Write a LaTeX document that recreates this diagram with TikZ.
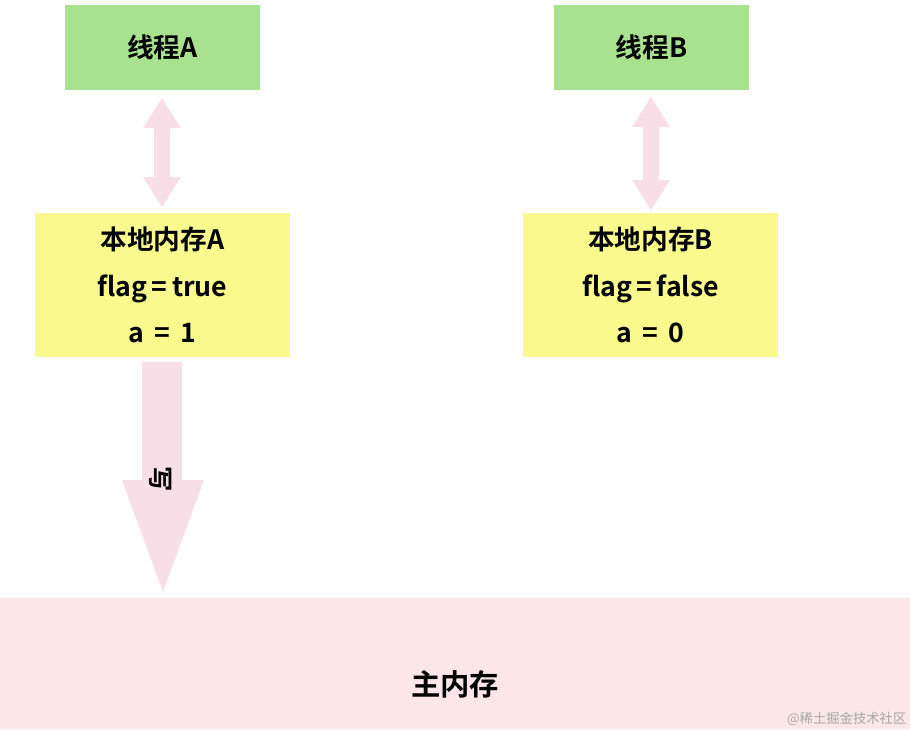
\documentclass[tikz,border=0pt]{standalone}
\usepackage{fontspec}
\setmainfont{Noto Sans CJK SC}[BoldFont={* Bold}]
\usetikzlibrary{calc}
\definecolor{thrgreen}{HTML}{A9E28F}
\definecolor{memyellow}{HTML}{FAF98E}
\definecolor{mainpink}{HTML}{FCE6E8}
\definecolor{arrowpink}{HTML}{F8DEE6}
\tikzset{
  thread/.style={fill=thrgreen,minimum width=146pt,minimum height=64pt,font=\fontsize{20}{24}\selectfont\bfseries},
  localmem/.style={fill=memyellow,minimum width=191pt,minimum height=108pt,align=center,font=\fontsize{20}{35}\selectfont\bfseries},
}
\begin{document}
\begin{tikzpicture}[x=0.75pt,y=-0.75pt]
            \useasboundingbox (0,0) rectangle (910,729);
            \node[thread] (thrA) at (162.5,47.5) {线程A};
            \node[thread] (thrB) at (651.5,47.5) {线程B};
            \node[localmem] (memA) at (162.5,285) {本地内存A\\flag{\,}={\,}true\\a {\,}={\,} 1};
            \node[localmem] (memB) at (650.5,285) {本地内存B\\flag{\,}={\,}false\\a {\,}={\,} 0};
            \fill[mainpink] (0,598) rectangle (910,729);
            \node[font=\fontsize{22}{26}\selectfont\bfseries] (main) at (455,684) {主内存};
            % double arrows between thread and local memory
            \foreach \x/\ya/\yb in {162/98/207,651/97/210} {
            \fill[arrowpink] (\x,\ya)--(\x+19,\ya+30)--(\x+8,\ya+30)--(\x+8,\yb-30)--(\x+19,\yb-30)--(\x,\yb)
              --(\x-19,\yb-30)--(\x-8,\yb-30)--(\x-8,\ya+30)--(\x-19,\ya+30)--cycle;
            }
            % write arrow
            \fill[arrowpink] (142,362)--(182,362)--(182,480)--(204,480)--(163,592)--(122,480)--(142,480)--cycle;
            \node[rotate=-90,font=\fontsize{19}{21}\selectfont\bfseries] (write) at (161,479) {写};
            \node[anchor=south east,inner sep=1pt,text=black!35,font=\fontsize{10}{12}\selectfont] (mark) at (908,727) {@稀土掘金技术社区};
\end{tikzpicture}
\end{document}
